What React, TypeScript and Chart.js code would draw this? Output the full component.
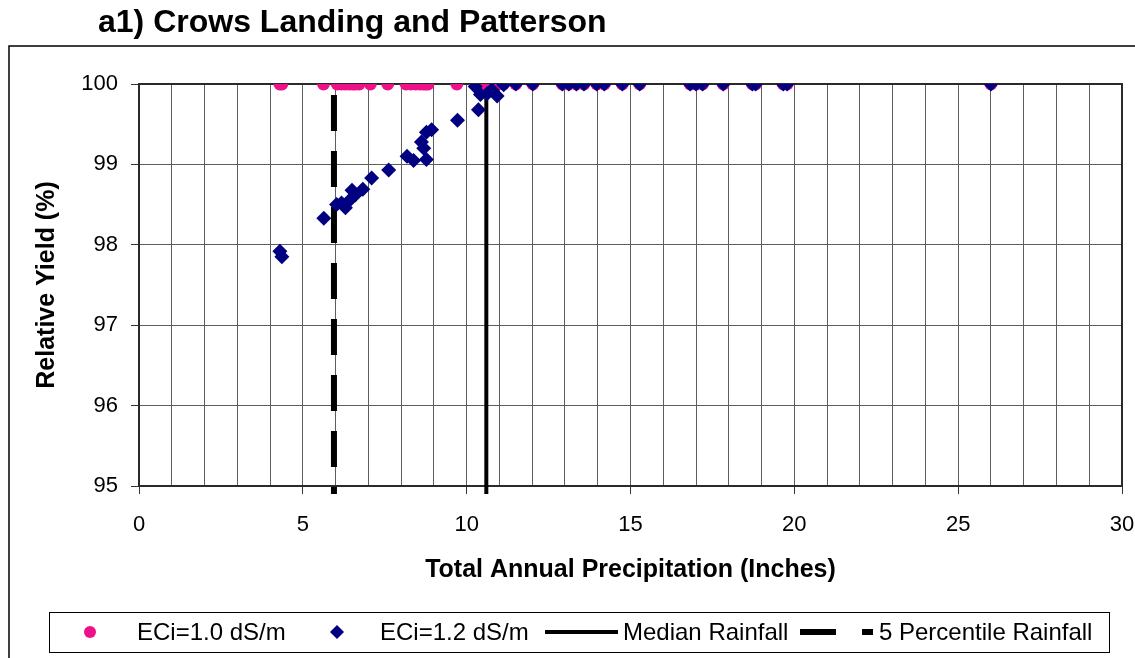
import React, { useEffect, useRef } from 'react';
import { Chart, registerables } from 'chart.js';

Chart.register(...registerables);

const TITLE = 'a1) Crows Landing and Patterson';
const X_TITLE = 'Total Annual Precipitation (Inches)';
const Y_TITLE = 'Relative Yield (%)';
const SERIES_NAMES = ['ECi=1.0 dS/m', 'ECi=1.2 dS/m', 'Median Rainfall', '5 Percentile Rainfall'];

const X_MIN = 0;
const X_MAX = 30;
const X_LABEL_STEP = 5;
const Y_MIN = 95;
const Y_MAX = 100;

// ECi = 1.0 dS/m (pink circles)
const eci10X = [4.3, 4.36, 5.63, 6.05, 6.18, 6.3, 6.42, 6.52, 6.6, 6.72, 7.06, 7.59, 8.15, 8.3, 8.45, 8.58, 8.68, 8.75, 8.82, 9.7, 10.26, 10.38, 10.5, 10.62, 10.77, 10.93, 11.12, 11.5, 12.02, 12.92, 13.12, 13.35, 13.58, 13.97, 14.2, 14.75, 15.28, 16.82, 17.0, 17.2, 17.83, 18.72, 18.82, 19.66, 19.78, 26.0];
const eci10Y = [100, 100, 100, 100, 100, 100, 100, 100, 100, 100, 100, 100, 100, 100, 100, 100, 100, 100, 100, 100, 100, 100, 100, 100, 100, 100, 100, 100, 100, 100, 100, 100, 100, 100, 100, 100, 100, 100, 100, 100, 100, 100, 100, 100, 100, 100];

// ECi = 1.2 dS/m (navy diamonds)
const eci12X = [4.3, 4.36, 5.64, 6.03, 6.18, 6.3, 6.42, 6.5, 6.6, 6.83, 7.1, 7.62, 8.18, 8.38, 8.62, 8.69, 8.77, 8.77, 8.93, 9.72, 10.26, 10.42, 10.36, 10.62, 10.77, 10.93, 11.13, 11.5, 12.02, 12.92, 13.12, 13.35, 13.58, 13.97, 14.2, 14.75, 15.28, 16.82, 17.0, 17.2, 17.83, 18.72, 18.82, 19.66, 19.78, 26.0];
const eci12Y = [97.92, 97.85, 98.33, 98.5, 98.52, 98.46, 98.55, 98.68, 98.62, 98.69, 98.83, 98.93, 99.1, 99.05, 99.28, 99.2, 99.06, 99.4, 99.43, 99.55, 99.97, 99.87, 99.68, 99.88, 99.93, 99.85, 99.99, 100, 100, 100, 100, 100, 100, 100, 100, 100, 100, 100, 100, 100, 100, 100, 100, 100, 100, 100];

// vertical reference lines
const MEDIAN_X = [10.6, 10.6];
const P5_X = [5.95, 5.95];
const REF_LINE_Y = [100, 94.9];

const PINK = '#EE1188';
const NAVY = '#000080';
const FONT = "'Liberation Sans', Arial, Helvetica, sans-serif";

const toPts = (xs: number[], ys: number[]) => xs.map((x, i) => ({ x, y: ys[i] }));

const decorPlugin = {
  id: 'decor',
  beforeDraw(chart: any) {
    const ctx = chart.ctx;
    ctx.save();
    ctx.fillStyle = '#fff';
    ctx.fillRect(0, 0, chart.width, chart.height);
    // outer frame
    ctx.strokeStyle = '#000';
    ctx.lineWidth = 1.5;
    ctx.strokeRect(9, 46, 1300, 800);
    // title
    ctx.fillStyle = '#000';
    ctx.font = `bold 32px ${FONT}`;
    ctx.textBaseline = 'middle';
    ctx.textAlign = 'left';
    ctx.fillText(TITLE, 98, 23);
    ctx.restore();
  },
  beforeDatasetsDraw(chart: any) {
    const { ctx, chartArea: a } = chart;
    ctx.save();
    ctx.strokeStyle = '#2a2a2a';
    ctx.lineWidth = 2;
    ctx.strokeRect(a.left, a.top, a.right - a.left, a.bottom - a.top);
    ctx.restore();
  },
  afterDraw(chart: any) {
    const ctx = chart.ctx;
    ctx.save();
    const y = 632;
    ctx.strokeStyle = '#000';
    ctx.lineWidth = 1;
    ctx.strokeRect(49.5, 612.5, 1060, 40);
    ctx.font = `24px ${FONT}`;
    ctx.fillStyle = '#000';
    ctx.textBaseline = 'middle';
    ctx.textAlign = 'left';
    // pink circle
    ctx.fillStyle = PINK;
    ctx.beginPath();
    ctx.arc(90, y, 6, 0, Math.PI * 2);
    ctx.fill();
    ctx.fillStyle = '#000';
    ctx.fillText(SERIES_NAMES[0], 137, y + 1);
    // diamond
    ctx.fillStyle = NAVY;
    ctx.beginPath();
    ctx.moveTo(337, y - 7);
    ctx.lineTo(344, y);
    ctx.lineTo(337, y + 7);
    ctx.lineTo(330, y);
    ctx.closePath();
    ctx.fill();
    ctx.fillStyle = '#000';
    ctx.fillText(SERIES_NAMES[1], 380, y + 1);
    // solid line
    ctx.strokeStyle = '#000';
    ctx.lineWidth = 4;
    ctx.beginPath();
    ctx.moveTo(545, y);
    ctx.lineTo(618, y);
    ctx.stroke();
    ctx.fillText(SERIES_NAMES[2], 623, y + 1);
    // dashed line
    ctx.lineWidth = 6;
    ctx.beginPath();
    ctx.moveTo(800, y);
    ctx.lineTo(836, y);
    ctx.moveTo(862, y);
    ctx.lineTo(873, y);
    ctx.stroke();
    ctx.fillText(SERIES_NAMES[3], 879, y + 1);
    ctx.restore();
  },
};

export default function App() {
  const ref = useRef<HTMLCanvasElement | null>(null);
  useEffect(() => {
    if (!ref.current) return;
    const chart = new Chart(ref.current, {
      type: 'scatter',
      data: {
        datasets: [
          {
            label: SERIES_NAMES[0],
            data: toPts(eci10X, eci10Y),
            pointStyle: 'circle',
            pointRadius: 6.5,
            pointBackgroundColor: PINK,
            pointBorderColor: PINK,
            pointBorderWidth: 0,
            showLine: false,
            order: 2,
          },
          {
            label: SERIES_NAMES[1],
            data: toPts(eci12X, eci12Y),
            pointStyle: 'rectRot',
            pointRadius: 7.5,
            pointBackgroundColor: NAVY,
            pointBorderColor: NAVY,
            pointBorderWidth: 0,
            showLine: false,
            order: 1,
          },
          {
            label: SERIES_NAMES[2],
            data: toPts(MEDIAN_X, REF_LINE_Y),
            showLine: true,
            borderColor: '#000',
            borderWidth: 4,
            pointRadius: 0,
            clip: false as any,
            order: 3,
          },
          {
            label: SERIES_NAMES[3],
            data: toPts(P5_X, REF_LINE_Y),
            showLine: true,
            borderColor: '#000',
            borderWidth: 6,
            borderDash: [36, 20],
            borderDashOffset: 45,
            borderCapStyle: 'butt',
            pointRadius: 0,
            clip: false as any,
            order: 4,
          },
        ],
      },
      options: {
        animation: false,
        responsive: false,
        maintainAspectRatio: false,
        events: [],
        layout: { padding: { left: 0, top: 84, right: 13, bottom: 62 } },
        plugins: {
          legend: { display: false },
          tooltip: { enabled: false },
          title: { display: false },
        },
        scales: {
          x: {
            type: 'linear',
            min: X_MIN,
            max: X_MAX,
            afterFit: (s: any) => {
              s.height = 110;
              s.paddingLeft = 0;
              s.paddingRight = 0;
            },
            ticks: {
              stepSize: 1,
              autoSkip: false,
              maxRotation: 0,
              padding: 18,
              color: '#000',
              font: { family: FONT, size: 22 },
              callback: (v: any) => (Number(v) % X_LABEL_STEP === 0 ? String(v) : ''),
            },
            grid: {
              color: '#5e5e5e',
              lineWidth: 1,
              tickLength: 8,
              tickColor: (c: any) => (c.tick && c.tick.value % X_LABEL_STEP === 0 ? '#333' : 'rgba(0,0,0,0)'),
            },
            border: { color: '#2a2a2a', width: 2 },
            title: {
              display: true,
              text: X_TITLE,
              color: '#000',
              font: { family: FONT, size: 25, weight: 'bold' },
              padding: { top: 0, bottom: 11 },
            },
          },
          y: {
            type: 'linear',
            min: Y_MIN,
            max: Y_MAX,
            afterFit: (s: any) => {
              s.width = 139;
            },
            ticks: {
              stepSize: 1,
              padding: 13,
              color: '#000',
              font: { family: FONT, size: 22 },
            },
            grid: {
              color: '#5e5e5e',
              lineWidth: 1,
              tickLength: 8,
              tickColor: '#333',
            },
            border: { color: '#2a2a2a', width: 2 },
            title: {
              display: true,
              text: Y_TITLE,
              color: '#000',
              font: { family: FONT, size: 25, weight: 'bold' },
              padding: { top: 32, bottom: 0 },
            },
          },
        },
      },
      plugins: [decorPlugin],
    } as any);
    return () => chart.destroy();
  }, []);

  return (
    <div style={{ position: 'absolute', left: 0, top: 0, width: 1135, height: 658, background: '#fff' }}>
      <canvas ref={ref} width={1135} height={658} style={{ display: 'block', width: 1135, height: 658 }} />
    </div>
  );
}
